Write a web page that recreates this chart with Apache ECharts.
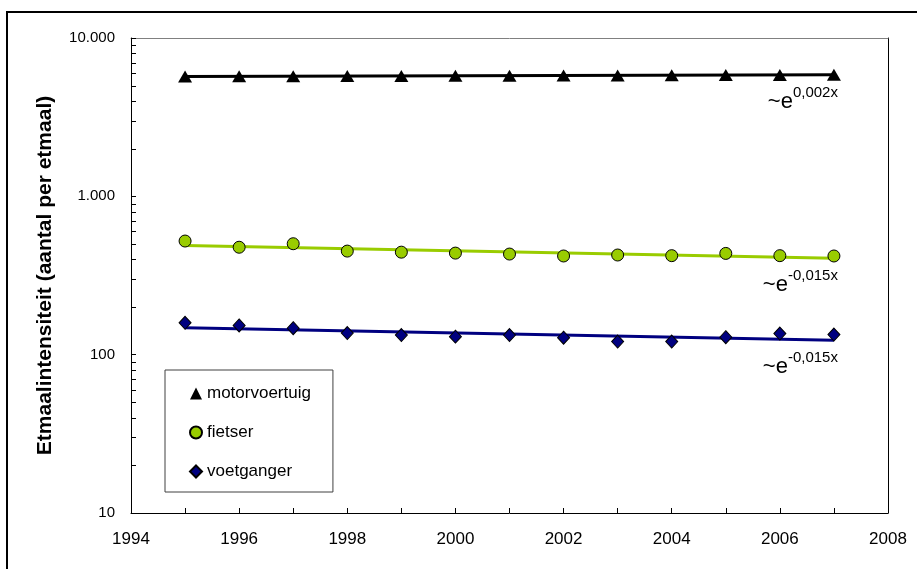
<!DOCTYPE html>
<html>
<head>
<meta charset="utf-8">
<script src="https://cdn.jsdelivr.net/npm/echarts@6/dist/echarts.min.js"></script>
<style>
  html, body { margin: 0; padding: 0; background: #fff; }
  #chart { width: 917px; height: 569px; }
</style>
</head>
<body>
<div id="chart"></div>
<script>
// Daily traffic counts per year, by mode
const years = [1995, 1996, 1997, 1998, 1999, 2000, 2001, 2002, 2003, 2004, 2005, 2006, 2007];
const motorvoertuig = [5720, 5730, 5740, 5750, 5760, 5770, 5780, 5790, 5800, 5810, 5830, 5840, 5860];
const fietser = [522, 477, 502, 451, 444, 438, 432, 420, 426, 422, 436, 422, 420];
const voetganger = [159, 153, 147, 137, 133, 130, 133, 128, 121, 121, 129, 136, 134];

const seriesNames = ['motorvoertuig', 'fietser', 'voetganger'];
const trendExponents = ['0,002x', '-0,015x', '-0,015x'];

// Axis ticks
const xMin = 1994, xMax = 2008, xStep = 2;
const yTickValues = [10, 100, 1000, 10000];
const yTickLabels = ['10', '100', '1.000', '10.000'];
const yMinorTicks = [20, 30, 40, 50, 60, 70, 80, 90,
                     200, 300, 400, 500, 600, 700, 800, 900,
                     2000, 3000, 4000, 5000, 6000, 7000, 8000, 9000];

const FONT = '"Liberation Sans", Arial, Helvetica, sans-serif';

// Exponential least-squares trend (fit of ln(y) against year), as in a spreadsheet trendline
function expTrend(xs, ys) {
  const n = xs.length;
  const lx = xs.reduce((s, v) => s + v, 0) / n;
  const ly = ys.reduce((s, v) => s + Math.log(v), 0) / n;
  let sxy = 0, sxx = 0;
  for (let i = 0; i < n; i++) {
    sxy += (xs[i] - lx) * (Math.log(ys[i]) - ly);
    sxx += (xs[i] - lx) * (xs[i] - lx);
  }
  const b = sxy / sxx;
  const at = x => Math.exp(ly + b * (x - lx));
  return [[xs[0], at(xs[0])], [xs[n - 1], at(xs[n - 1])]];
}

const values = [motorvoertuig, fietser, voetganger];
const trends = values.map(v => expTrend(years, v));
const colors = ['#000000', '#99CC00', '#000080'];
const symbols = ['triangle', 'circle', 'diamond'];
const symbolSizes = [[14, 12], 12, [12, 13]];

const chart = echarts.init(document.getElementById('chart'), null, { renderer: 'canvas' });

const scatterSeries = values.map((v, k) => ({
  name: seriesNames[k],
  type: 'scatter',
  xAxisIndex: 0,
  yAxisIndex: 0,
  data: years.map((yr, i) => [yr, v[i]]),
  symbol: symbols[k],
  symbolSize: symbolSizes[k],
  itemStyle: {
    color: colors[k],
    borderColor: '#000',
    borderWidth: k === 0 ? 0 : 1,
    opacity: 1
  },
  z: 4,
  silent: true
}));

const trendSeries = trends.map((t, k) => ({
  name: seriesNames[k] + ' trend',
  type: 'line',
  xAxisIndex: 0,
  yAxisIndex: 0,
  data: t,
  showSymbol: false,
  lineStyle: { color: colors[k], width: 3 },
  z: 3,
  silent: true
}));

chart.setOption({
  animation: false,
  backgroundColor: '#fff',
  textStyle: { fontFamily: FONT },
  grid: { left: 131, right: 29, top: 38, bottom: 56, containLabel: false },
  legend: {
    orient: 'vertical',
    left: 165,
    top: 370,
    data: seriesNames.map((n, k) => ({ name: n, icon: symbols[k] })),
    itemWidth: 12,
    itemHeight: 12,
    itemGap: 22,
    padding: [15, 22, 12, 24],
    borderColor: '#404040',
    borderWidth: 1,
    backgroundColor: '#fff',
    textStyle: { fontSize: 17, color: '#000', fontFamily: FONT },
    selectedMode: false
  },
  xAxis: [
    {
      type: 'value',
      min: xMin, max: xMax, interval: xStep,
      axisLine: { show: true, onZero: false, lineStyle: { color: '#000', width: 1 } },
      axisTick: { show: true, inside: true, length: 5, lineStyle: { color: '#000' } },
      minorTick: { show: true, splitNumber: 2, length: 5, lineStyle: { color: '#000' } },
      splitLine: { show: false },
      minorSplitLine: { show: false },
      axisLabel: { color: '#000', fontSize: 17, fontFamily: FONT, margin: 18,
                   formatter: v => String(v) }
    },
    {
      type: 'value',
      position: 'top',
      min: xMin, max: xMax,
      axisLine: { show: true, onZero: false, lineStyle: { color: '#808080', width: 1 } },
      axisTick: { show: false },
      axisLabel: { show: false },
      splitLine: { show: false }
    }
  ],
  yAxis: [
    {
      type: 'log',
      logBase: 10,
      min: 10, max: 10000,
      axisLine: { show: true, onZero: false, lineStyle: { color: '#000', width: 1 } },
      axisTick: { show: true, inside: true, length: 5, lineStyle: { color: '#000' } },
      splitLine: { show: false },
      axisLabel: {
        color: '#000', fontSize: 15, fontFamily: FONT, margin: 16,
        formatter: v => {
          const idx = yTickValues.indexOf(Math.round(v));
          return idx >= 0 ? yTickLabels[idx] : '';
        }
      },
      name: 'Etmaalintensiteit (aantal per etmaal)',
      nameLocation: 'middle',
      nameRotate: 90,
      nameGap: 75,
      nameTextStyle: { fontSize: 21, fontWeight: 'bold', color: '#000', fontFamily: FONT }
    },
    {
      type: 'value',
      position: 'right',
      min: 0, max: 1,
      axisLine: { show: true, onZero: false, lineStyle: { color: '#000', width: 1 } },
      axisTick: { show: false },
      axisLabel: { show: false },
      splitLine: { show: false }
    }
  ],
  series: trendSeries.concat(scatterSeries)
});

const toPx = pt => chart.convertToPixel({ xAxisIndex: 0, yAxisIndex: 0 }, pt);

// Log-spaced minor ticks (2..9 per decade) on the inside of the value axis
const minorTickGraphics = yMinorTicks.map(v => {
  const p = toPx([xMin, v]);
  const y = Math.round(p[1]) + 0.5;
  return {
    type: 'line',
    silent: true,
    z: 10,
    shape: { x1: p[0], y1: y, x2: p[0] + 5, y2: y },
    style: { stroke: '#000', lineWidth: 1 }
  };
});

// Trend formula labels anchored under the end of each trend line
const formulaGraphics = trends.map((t, k) => {
  const p = toPx(t[t.length - 1]);
  return {
    type: 'text',
    x: p[0] + 4,
    y: p[1] + 10,
    silent: true,
    style: {
      text: '{b|~e}{s|' + trendExponents[k] + '}',
      align: 'right',
      verticalAlign: 'top',
      rich: {
        b: { fontSize: 22, lineHeight: 28, verticalAlign: 'bottom', fill: '#000', fontFamily: FONT },
        s: { fontSize: 15, lineHeight: 28, verticalAlign: 'top', fill: '#000', fontFamily: FONT }
      }
    }
  };
});

chart.setOption({
  graphic: [
    {
      type: 'rect',
      silent: true,
      shape: { x: 7, y: 12, width: 1000, height: 1000 },
      style: { fill: 'none', stroke: '#000', lineWidth: 2 }
    }
  ].concat(minorTickGraphics, formulaGraphics)
});
</script>
</body>
</html>
